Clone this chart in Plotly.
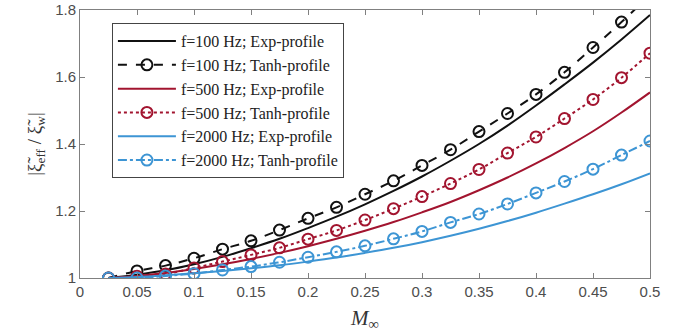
import plotly.graph_objects as go

mach = [0.025, 0.05, 0.075, 0.1, 0.125, 0.15, 0.175, 0.2, 0.225, 0.25,
        0.275, 0.3, 0.325, 0.35, 0.375, 0.4, 0.425, 0.45, 0.475, 0.5]

exp_100 = [1.000, 1.010, 1.023, 1.041, 1.063, 1.089, 1.117, 1.149, 1.183, 1.220,
           1.260, 1.303, 1.350, 1.400, 1.455, 1.515, 1.578, 1.643, 1.712, 1.785]
tanh_100 = [1.000, 1.021, 1.037, 1.059, 1.086, 1.111, 1.143, 1.178, 1.211, 1.250,
            1.290, 1.336, 1.383, 1.437, 1.491, 1.548, 1.614, 1.688, 1.764, 1.845]
exp_500 = [1.000, 1.006, 1.015, 1.027, 1.041, 1.057, 1.075, 1.095, 1.117, 1.141,
           1.167, 1.196, 1.227, 1.262, 1.300, 1.342, 1.388, 1.438, 1.494, 1.554]
tanh_500 = [1.000, 1.005, 1.012, 1.030, 1.049, 1.069, 1.090, 1.116, 1.142, 1.173,
            1.207, 1.243, 1.282, 1.324, 1.373, 1.421, 1.476, 1.533, 1.598, 1.671]
exp_2000 = [1.000, 1.003, 1.008, 1.014, 1.021, 1.029, 1.038, 1.049, 1.061, 1.075,
            1.090, 1.107, 1.126, 1.147, 1.170, 1.195, 1.222, 1.250, 1.280, 1.3125]
tanh_2000 = [1.000, 1.000, 1.006, 1.013, 1.024, 1.034, 1.047, 1.062, 1.078, 1.096,
             1.117, 1.139, 1.166, 1.191, 1.221, 1.254, 1.288, 1.325, 1.367, 1.409]

x_ticks = [0, 0.05, 0.1, 0.15, 0.2, 0.25, 0.3, 0.35, 0.4, 0.45, 0.5]
y_ticks = [1, 1.2, 1.4, 1.6, 1.8]

BLACK = "#111111"
RED = "#a2142f"
BLUE = "#3d95d4"

fig = go.Figure()

def add(name, y, color, dash, marker):
    kw = dict(x=mach, y=y, name=name,
              line=dict(color=color, width=2, dash=dash, shape="spline"))
    if marker:
        kw["mode"] = "lines+markers"
        kw["marker"] = dict(symbol="circle-open", size=11, color=color,
                            line=dict(width=2, color=color))
    else:
        kw["mode"] = "lines"
    fig.add_trace(go.Scatter(**kw))

add("f=100 Hz; Exp-profile", exp_100, BLACK, "solid", False)
add("f=100 Hz; Tanh-profile", tanh_100, BLACK, "dash", True)
add("f=500 Hz; Exp-profile", exp_500, RED, "solid", False)
add("f=500 Hz; Tanh-profile", tanh_500, RED, "dot", True)
add("f=2000 Hz; Exp-profile", exp_2000, BLUE, "solid", False)
add("f=2000 Hz; Tanh-profile", tanh_2000, BLUE, "dashdot", True)

axis_common = dict(showline=True, linecolor="#808080", linewidth=1, mirror="ticks",
                   ticks="inside", ticklen=5, tickcolor="#808080", showgrid=False,
                   zeroline=False, automargin=False,
                   tickfont=dict(family="Liberation Sans, Arial", size=15, color="#4d4d4d"))

fig.update_layout(
    width=673, height=332,
    margin=dict(l=80, r=23, t=10, b=54),
    plot_bgcolor="white", paper_bgcolor="white",
    xaxis=dict(range=[0, 0.5], tickvals=x_ticks,
               ticktext=[("%g" % v) for v in x_ticks],
               title=dict(text="<i>M</i><sub>∞</sub>", standoff=14,
                          font=dict(family="Liberation Serif", size=21, color="#333333")),
               **axis_common),
    yaxis=dict(range=[1, 1.8], tickvals=y_ticks,
               ticktext=[("%g" % v) for v in y_ticks],
               title=dict(text="|ξ\u0303<sub>eff</sub> / ξ\u0303<sub>w</sub>|", standoff=8,
                          font=dict(family="Liberation Serif", size=19, color="#333333")),
               **axis_common),
    legend=dict(x=0.056, y=0.951, xanchor="left", yanchor="top",
                bgcolor="white", bordercolor="#444444", borderwidth=1,
                font=dict(family="Liberation Serif", size=16, color="#222222"),
                tracegroupgap=0, itemwidth=58),
    showlegend=True,
)

fig.write_html("out.html")
